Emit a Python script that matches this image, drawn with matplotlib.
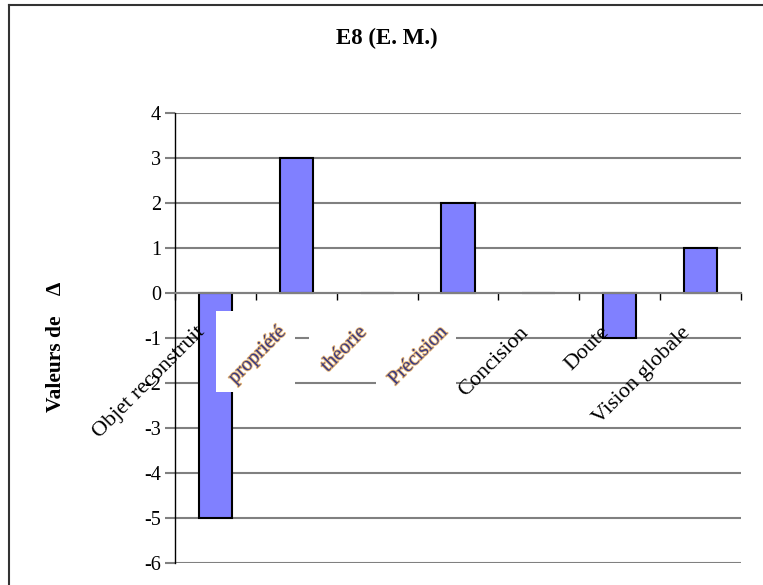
import matplotlib
matplotlib.use('Agg')
import matplotlib.pyplot as plt
import matplotlib.patheffects as pe
from matplotlib.patches import Rectangle
from matplotlib.lines import Line2D
from matplotlib.transforms import offset_copy

plt.rcParams['font.family'] = ['Liberation Serif', 'DejaVu Serif']
plt.rcParams['axes.unicode_minus'] = False

# data
categories = ['Objet reconstruit', 'propriété', 'théorie', 'Précision',
              'Concision', 'Doute', 'Vision globale']
values = [-5, 3, 0, 2, 0, -1, 1]
y_ticks = list(range(-6, 5))
garbled = [1, 2, 3]  # labels rendered small/blurry on a white patch

W, H = 763, 585
fig = plt.figure(figsize=(W / 100, H / 100), dpi=100)
ax = fig.add_axes([175 / W, 1 - 563 / H, 566 / W, 450 / H])

x = list(range(len(categories)))
ax.bar(x, values, width=0.41, color='#8080FF', edgecolor='black',
       linewidth=1.5, zorder=1)

ax.set_xlim(-0.5, len(categories) - 0.5)
ax.set_ylim(-6, 4)
ax.set_axisbelow(True)

# y axis + gridlines
ax.set_yticks(y_ticks)
ax.yaxis.grid(True, color='#808080', linewidth=1.5)
ax.tick_params(axis='y', color='#808080', length=7, width=1.5,
               labelsize=14.5, pad=3)
ax.spines['left'].set_color('black')
ax.spines['left'].set_linewidth(1)

# x axis sits on the zero line
ax.spines['bottom'].set_position(('data', 0))
ax.spines['bottom'].set_color('#808080')
ax.spines['bottom'].set_linewidth(1.5)
ax.spines['top'].set_visible(False)
ax.spines['right'].set_visible(False)
ax.set_xticks([])
ax.set_xticks([i - 0.5 for i in range(len(categories) + 1)], minor=True)
ax.tick_params(axis='x', which='minor', direction='out', length=5,
               width=1, color='black')

# category labels
lab_tr = offset_copy(ax.transData, fig=fig, x=-20, y=-30, units='dots')
fringe = [pe.Stroke(linewidth=1.3, foreground='#e9b878'), pe.Normal()]
labels = []
for i, name in enumerate(categories):
    if i in garbled:
        t = ax.text(i, 0, name, transform=lab_tr, rotation=45,
                    rotation_mode='anchor', ha='right', va='top',
                    fontsize=14.5, color='#3a3a80', zorder=3,
                    path_effects=fringe)
    else:
        t = ax.text(i, 0, name, transform=lab_tr, rotation=45,
                    rotation_mode='anchor', ha='right', va='top',
                    fontsize=16, color='black', zorder=3)
    labels.append(t)

# white patches behind the garbled labels
fig.canvas.draw()
inv = fig.transFigure.inverted()
for i in garbled:
    bb = labels[i].get_window_extent()
    x0, y0 = inv.transform((bb.x0 - 9, bb.y0 - 4))
    x1, y1 = inv.transform((bb.x1 + 5, bb.y1 + 12))
    ax.add_patch(Rectangle((x0, y0), x1 - x0, y1 - y0, transform=fig.transFigure,
                           facecolor='white', edgecolor='none', zorder=2,
                           clip_on=False))

# title and axis label
fig.text(387 / W, 1 - 38 / H, 'E8 (E. M.)', ha='center', va='center',
         fontsize=16.5, fontweight='bold')
fig.text(56 / W, 1 - 347 / H, 'Valeurs de    Δ', ha='center', va='center',
         rotation=90, fontsize=15.5, fontweight='bold')

# chart area border (left and top visible)
fig.add_artist(Line2D([9 / W, 9 / W], [0, 1 - 5 / H], transform=fig.transFigure,
                      color='#333333', linewidth=1.5))
fig.add_artist(Line2D([9 / W, 1], [1 - 5 / H, 1 - 5 / H], transform=fig.transFigure,
                      color='#333333', linewidth=1.5))

fig.savefig('out.png', dpi=100)
